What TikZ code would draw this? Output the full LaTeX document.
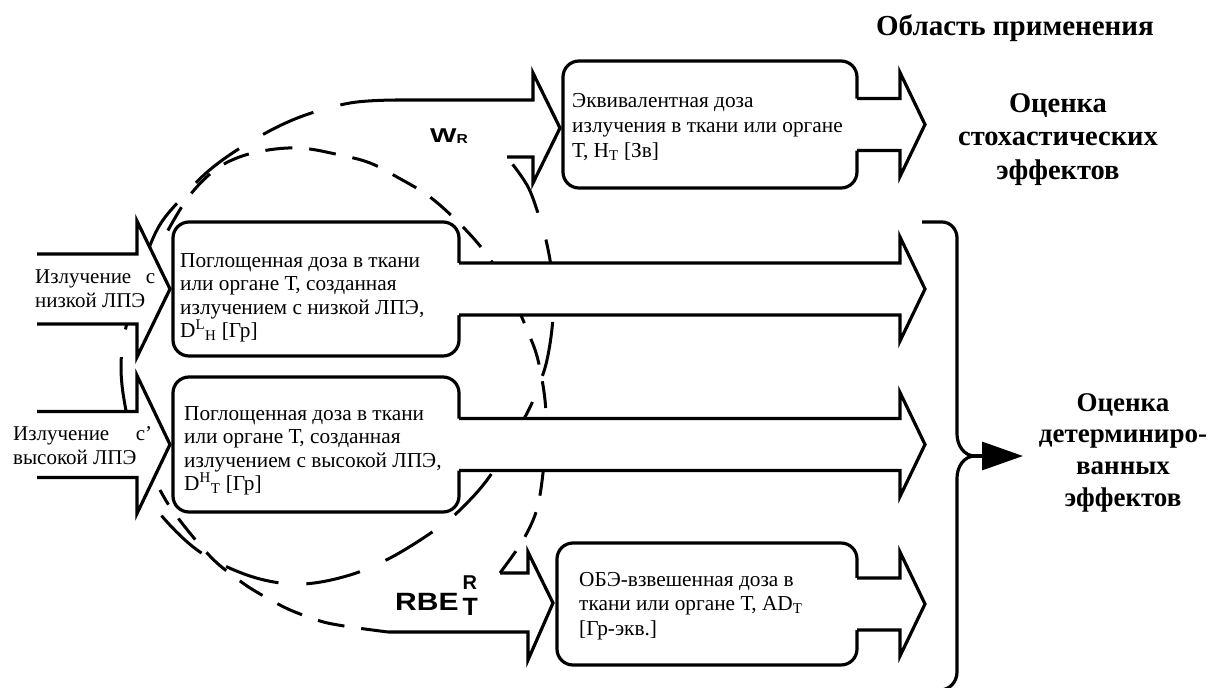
\documentclass[tikz,border=0pt]{standalone}
\usepackage{graphicx}
\usepackage{fontspec}
\setmainfont{Liberation Serif}
\newfontfamily\lblfont{Liberation Sans}
\usetikzlibrary{calc,arrows.meta}

\tikzset{
  heavy/.style={line width=3.2pt, line join=miter, miter limit=12},
  longdash/.style={line width=3pt, dash pattern=on 55pt off 28pt},
  shortdash/.style={line width=3pt, dash pattern=on 27pt off 17pt},
  dosebox/.style={draw, heavy, fill=white, rounded corners=16pt, inner sep=0pt, outer sep=0pt},
  boxtext/.style={inner sep=0pt, anchor=base west, font=\fontsize{21.3}{23.5}\selectfont},
  sidetext/.style={inner sep=0pt, anchor=base west, font=\fontsize{21}{24}\selectfont},
  headtext/.style={inner sep=0pt, anchor=base, font=\bfseries\fontsize{28.5}{33.5}\selectfont},
  factor/.style={inner sep=0pt, anchor=base west, font=\lblfont\bfseries},
}

% block arrow leaving a dose box to the right (shaft +-26, head +-52)
\newcommand\blockout[1]{%
  \path[fill=white] ($(#1.east)+(-3,-26)$) -- ($(headx |- #1.east)+(0,-26)$)
    -- ($(headx |- #1.east)+(0,-52)$) -- (tipx |- #1.east)
    -- ($(headx |- #1.east)+(0,52)$) -- ($(headx |- #1.east)+(0,26)$)
    -- ($(#1.east)+(-3,26)$) -- cycle;
  \draw[heavy] ($(#1.east)+(0,-26)$) -- ($(headx |- #1.east)+(0,-26)$)
    -- ($(headx |- #1.east)+(0,-52)$) -- (tipx |- #1.east)
    -- ($(headx |- #1.east)+(0,52)$) -- ($(headx |- #1.east)+(0,26)$)
    -- ($(#1.east)+(0,26)$);
}

% block arrow entering a dose box from the left: #2 shaft half height, #3 head half height
\newcommand\blockin[3]{%
  \path[fill=white] ($(lx |- #1.west)+(0,-#2)$) -- ($(#1.west)+(-36,-#2)$)
    -- ($(#1.west)+(-36,-#3)$) -- ($(#1.west)+(-3,0)$)
    -- ($(#1.west)+(-36,#3)$) -- ($(#1.west)+(-36,#2)$)
    -- ($(lx |- #1.west)+(0,#2)$) -- cycle;
  \draw[heavy] ($(lx |- #1.west)+(0,-#2)$) -- ($(#1.west)+(-36,-#2)$)
    -- ($(#1.west)+(-36,-#3)$) -- ($(#1.west)+(-3,0)$)
    -- ($(#1.west)+(-36,#3)$) -- ($(#1.west)+(-36,#2)$)
    -- ($(lx |- #1.west)+(0,#2)$);
}

\begin{document}
\begin{tikzpicture}[x=1pt,y=-1pt]
\useasboundingbox[fill=white] (0,0) rectangle (1208,688);

% reference abscissae
\coordinate (lx) at (37,0);
\coordinate (headx) at (900,0);
\coordinate (tipx) at (925,0);

% ends of the weighting arrows
\coordinate (wrTop) at (395,100);
\coordinate (wrBot) at (507,157);
\coordinate (wrTip) at (560,128);
\coordinate (rbTop) at (500,573);
\coordinate (rbBot) at (388,632);
\coordinate (rbTip) at (553,603);

% dashed loop feeding the W_R arrow
\draw[longdash] plot[smooth, tension=0.6] coordinates {
  (wrTop) (350,103) (300,117) (255,139) (212,168) (180,200) (158,228)
  (142,268) (130,310) (122,350) (122,385) (130,430) (140,470) (152,503)
  (185,540) (217,562) (260,579) (303,584) (350,575) (392,557) (438,528)
  (465,505) (492,473) (525,417) (537,390) (547,360) (553,317) (552,275)
  (546,240) (538,213) (527,185) (wrBot)};

% dashed loop feeding the RBE arrow
\draw[shortdash] plot[smooth, tension=0.6] coordinates {
  (rbTop) (518,548) (530,527) (538,505) (543,473) (546,435) (545,400)
  (538,360) (528,332) (510,292) (487,255) (462,226) (430,197) (397,177)
  (370,163) (340,155) (300,148) (262,151) (232,160) (210,174) (190,195)
  (175,218) (160,245)};
\draw[shortdash] plot[smooth, tension=0.6] coordinates {
  (rbBot) (365,629) (338,625) (320,621) (295,612) (278,604) (255,591)
  (240,581) (217,563) (200,545) (185,527) (170,507) (160,490)};

% dose boxes
\node[dosebox, minimum width=294pt, minimum height=127pt] (tb) at (710,124.5) {};
\node[dosebox, minimum width=286pt, minimum height=134pt] (b1) at (316,289) {};
\node[dosebox, minimum width=286pt, minimum height=135pt] (b2) at (316,444.5) {};
\node[dosebox, minimum width=300pt, minimum height=122pt] (ob) at (707,604) {};

% incoming radiation arrows
\blockin{b1}{35}{68}
\blockin{b2}{33}{69}

% outgoing arrows
\blockout{tb}
\blockout{b1}
\blockout{b2}
\blockout{ob}

% weighting arrows
\draw[heavy] (wrTop) -- (533,100) -- (533,73) -- (wrTip) -- (533,183) -- (533,157) -- (wrBot);
\draw[heavy] (rbTop) -- (528,573) -- (528,552) -- (rbTip) -- (528,660) -- (528,632) -- (rbBot);

% texts
\node[boxtext] (tbtext) at (572,107) {\parbox[t]{330pt}{\raggedright\fontsize{21.3}{25}\selectfont
  Эквивалентная доза\\излучения в ткани или органе\\Т, H\textsubscript{T} [Зв]}};
\node[boxtext] (b1text) at (180,267) {\parbox[t]{330pt}{\raggedright
  Поглощенная доза в ткани\\или органе Т, созданная\\излучением с низкой ЛПЭ,\\D\textsuperscript{L}\textsubscript{H} [Гр]}};
\node[boxtext] (b2text) at (184,420) {\parbox[t]{330pt}{\raggedright
  Поглощенная доза в ткани\\или органе Т, созданная\\излучением с высокой ЛПЭ,\\D\textsuperscript{H}\textsubscript{T} [Гр]}};
\node[boxtext] (obtext) at (579,586) {\parbox[t]{330pt}{\raggedright\fontsize{21.3}{24.5}\selectfont
  ОБЭ-взвешенная доза в\\ткани или органе Т, AD\textsubscript{T}\\{}[Гр-экв.]}};

\node[sidetext] (lowtxt) at (35,283) {\parbox[t]{140pt}{\makebox[120pt][l]{Излучение\hfill с}\\низкой ЛПЭ}};
\node[sidetext] (hightxt) at (13,440) {\parbox[t]{160pt}{\makebox[139pt][l]{Излучение\hfill с'}\\высокой ЛПЭ}};

\node[factor, font=\lblfont\bfseries\fontsize{20}{20}\selectfont] (wr) at (430,142)
  {\scalebox{1.4}[1]{W}\raisebox{-1.5pt}{\fontsize{13}{13}\selectfont\scalebox{1.2}[1]{R}}};
\node[factor, font=\lblfont\bfseries\fontsize{25}{25}\selectfont] (rbe) at (395,610)
  {\scalebox{1.2}[1]{RBE}\kern4pt\rlap{\raisebox{21pt}{\fontsize{20}{20}\selectfont R}}\raisebox{-5pt}{T}};

\node[headtext, font=\bfseries\fontsize{29}{33}\selectfont] (scope) at (1015,35) {Область применения};
\node[headtext] (stoch) at (1058,112) {\parbox[t]{260pt}{\centering Оценка\\стохастических\\эффектов}};
\node[headtext, font=\bfseries\fontsize{27}{31.7}\selectfont] (determ) at (1123,411)
  {\parbox[t]{220pt}{\centering Оценка\\детерминиро-\\ванных\\эффектов}};

% brace gathering the absorbed-dose arrows
\coordinate (bt) at (975,456);
\coordinate (dtip) at (1023,456);
\draw[heavy] (922,222) -- (942,222) to[out=0,in=90] (957,238) -- (957,434) to[out=-90,in=180] (bt);
\draw[heavy] (bt) to[out=180,in=90] (957,478) -- (957,672) to[out=-90,in=0] (940,690);
\draw[heavy, -{Triangle[length=41pt,width=28pt]}] (bt) -- (dtip);
\end{tikzpicture}
\end{document}
